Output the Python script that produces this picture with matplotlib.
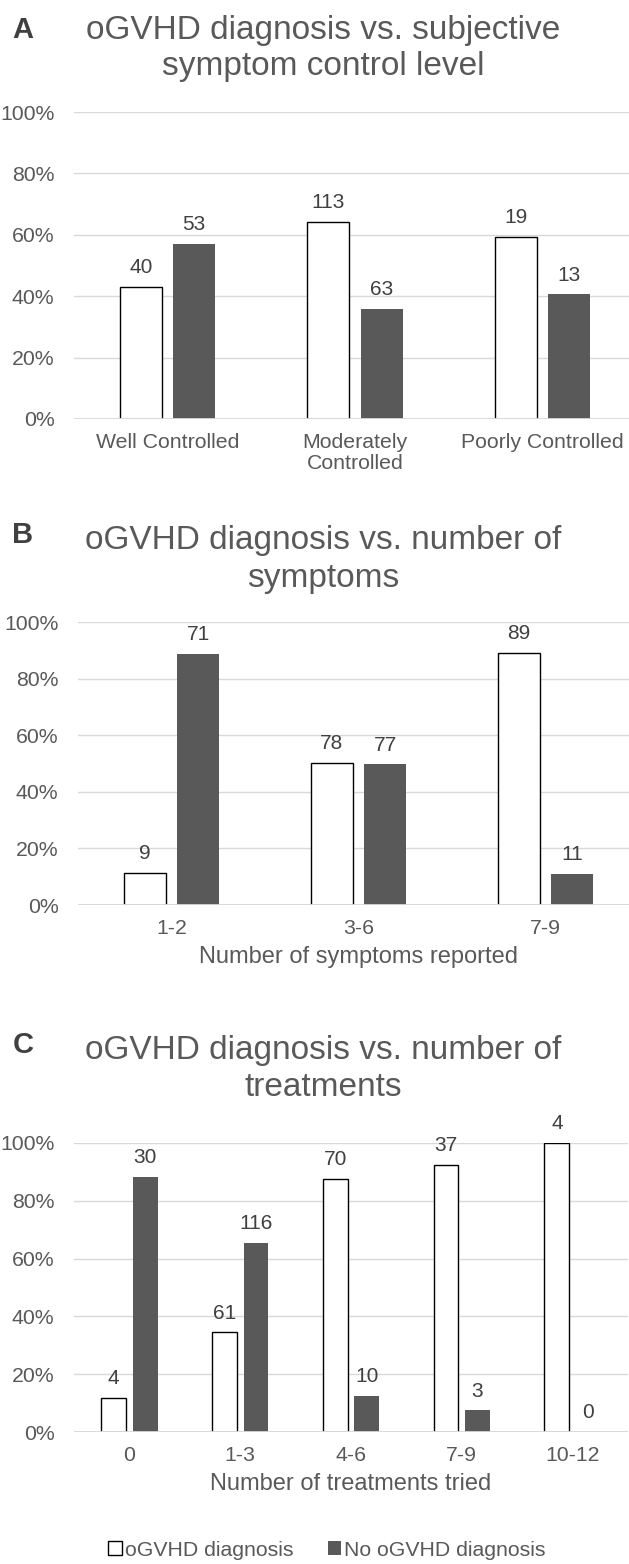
import matplotlib
matplotlib.use("Agg")
import matplotlib.pyplot as plt
from matplotlib.patches import Patch
import numpy as np

plt.rcParams["font.family"] = ["Liberation Sans", "DejaVu Sans"]

TXT = "#595959"; LBL = "#404040"; DARK = "#595959"; GRID = "#d9d9d9"

# panel A
cat_a = ["Well Controlled", "Moderately\nControlled", "Poorly Controlled"]
dx_a = [40, 113, 19]
nodx_a = [53, 63, 13]
# panel B
cat_b = ["1-2", "3-6", "7-9"]
dx_b = [9, 78, 89]
nodx_b = [71, 77, 11]
# panel C
cat_c = ["0", "1-3", "4-6", "7-9", "10-12"]
dx_c = [4, 61, 70, 37, 4]
nodx_c = [30, 116, 10, 3, 0]

W, H = 629, 1564
fig = plt.figure(figsize=(W / 100, H / 100), dpi=100)


def box(top, bottom, left, right):
    return [left / W, 1 - bottom / H, (right - left) / W, (bottom - top) / H]


def panel(rect, cats, dx, nodx, xlabel=None):
    ax = fig.add_axes(rect)
    dx = np.array(dx, float); nodx = np.array(nodx, float)
    tot = dx + nodx
    x = np.arange(len(cats))
    w = 0.224; off = 0.142
    b1 = ax.bar(x - off, dx / tot, w, facecolor="white", edgecolor="black",
                linewidth=1.0, zorder=3)
    b2 = ax.bar(x + off, nodx / tot, w, facecolor=DARK, edgecolor="none", zorder=3)
    for bars, vals in ((b1, dx), (b2, nodx)):
        for r, v in zip(bars, vals):
            ax.annotate(f"{int(v)}", (r.get_x() + r.get_width() / 2, r.get_height()),
                        xytext=(0, 7), textcoords="offset points", ha="center",
                        va="bottom", fontsize=15, color=LBL, annotation_clip=False)
    ax.set_xlim(-0.5, len(cats) - 0.5)
    ax.set_ylim(0, 1.0)
    ticks = np.arange(0, 1.01, 0.2)
    ax.set_yticks(ticks)
    ax.set_yticklabels([f"{int(round(t * 100))}%" for t in ticks])
    ax.set_xticks(x)
    ax.set_xticklabels(cats, linespacing=1.15)
    ax.tick_params(length=0, labelsize=15.3, labelcolor=TXT)
    ax.tick_params(axis="y", pad=14)
    ax.tick_params(axis="x", pad=10)
    ax.grid(axis="y", color=GRID, linewidth=1.0, zorder=0)
    ax.axhline(0, color=GRID, linewidth=1.3, zorder=4)
    for s in ax.spines.values():
        s.set_visible(False)
    if xlabel:
        ax.set_xlabel(xlabel, fontsize=17, color=TXT, labelpad=6)
    return ax


def heading(letter, l1, l2, ylet, y1, y2):
    fig.text(23 / W, 1 - ylet / H, letter, fontsize=21, weight="bold", color=LBL,
             ha="center", va="center")
    fig.text(323 / W, 1 - y1 / H, l1, fontsize=24, color=TXT, ha="center", va="center")
    fig.text(323 / W, 1 - y2 / H, l2, fontsize=24, color=TXT, ha="center", va="center")


heading("A", "oGVHD diagnosis vs. subjective", "symptom control level", 30, 30, 67)
panel(box(112, 419, 74, 636), cat_a, dx_a, nodx_a)

heading("B", "oGVHD diagnosis vs. number of", "symptoms", 535, 541, 578)
panel(box(622, 905, 78, 639), cat_b, dx_b, nodx_b, "Number of symptoms reported")

heading("C", "oGVHD diagnosis vs. number of", "treatments", 1045, 1051, 1088)
panel(box(1143, 1432, 74, 628), cat_c, dx_c, nodx_c, "Number of treatments tried")

handles = [Patch(facecolor="white", edgecolor="black", linewidth=1.0),
           Patch(facecolor=DARK, edgecolor="none")]
fig.legend(handles, ["oGVHD diagnosis", "No oGVHD diagnosis"], ncol=2,
           loc="center", bbox_to_anchor=(327 / W, 1 - 1550 / H), frameon=False,
           fontsize=15.3, handlelength=0.65, handleheight=0.65, handletextpad=0.15,
           columnspacing=1.6, labelcolor=TXT, borderpad=0)

fig.savefig("out.png", dpi=100, facecolor="white")
